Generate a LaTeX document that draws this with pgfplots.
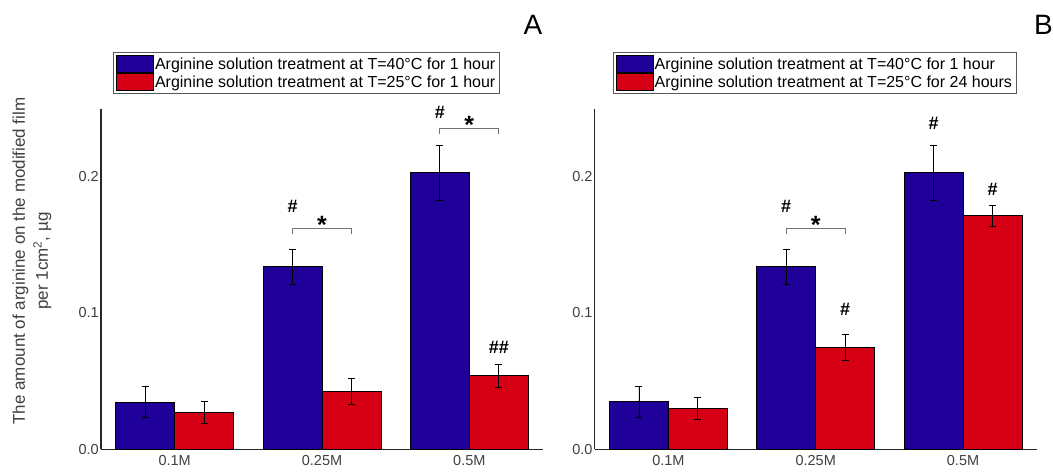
\documentclass[border=0pt]{standalone}
\usepackage{fontspec}
\setmainfont{Liberation Sans}
\usepackage{pgfplots}
\usepackage{pgfplotstable}
\pgfplotsset{compat=1.18}
\definecolor{cblue}{RGB}{31,0,153}
\definecolor{cred}{RGB}{214,0,20}
\definecolor{tgray}{RGB}{64,64,64}

\pgfplotstableread{
x y e
0 0.0346 0.0113
1 0.1339 0.0128
2 0.2026 0.0203
}\Ablue
\pgfplotstableread{
x y e
0 0.0270 0.0078
1 0.0424 0.0095
2 0.0539 0.0084
}\Ared
\pgfplotstableread{
x y e
0 0.0349 0.0113
1 0.1339 0.0128
2 0.2026 0.0203
}\Bblue
\pgfplotstableread{
x y e
0 0.0302 0.0080
1 0.0746 0.0095
2 0.1710 0.0079
}\Bred

\pgfplotsset{
 panel/.style={
  scale only axis, width=442pt, height=340pt,
  xmin=-0.5, xmax=2.5, ymin=0, ymax=0.249,
  axis lines=left, axis line style={-, line width=1.4pt, black!85},
  major tick length=0pt,
  xtick={0,1,2}, xticklabels={0.1M,0.25M,0.5M},
  ytick={0,0.1,0.2}, yticklabels={0.0,0.1,0.2},
  tick label style={font=\fontsize{14.5}{14.5}\selectfont, text=tgray},
  x tick label style={yshift=-3pt},
  y tick label style={inner sep=1pt, xshift=-1pt},
  ybar, bar width=0.4,
  clip=false,
  legend cell align=left,
  legend image code/.code={\draw[##1, draw=black, line width=0.6pt] (0pt,-8.5pt) rectangle (37pt,8.5pt);},
  legend style={at={(0,1)}, anchor=north west, yshift=57pt, draw=black!65, line width=0.8pt,
    font=\fontsize{16}{18}\selectfont, row sep=0.5pt, inner sep=2.5pt, nodes={inner sep=1.5pt}},
 },
 errs/.style={error bars/.cd, y dir=both, y explicit,
   error bar style={line width=0.8pt, black},
   error mark options={rotate=90, line width=0.8pt, black, mark size=3.5pt}},
 bl/.style={fill=cblue, draw=black, line width=0.6pt, bar shift=-0.2, errs},
 rd/.style={fill=cred, draw=black, line width=0.6pt, bar shift=0.2, errs},
}
\tikzset{
 hash/.style={font=\bfseries\fontsize{18}{18}\selectfont},
 ast/.style={font=\bfseries\fontsize{25}{25}\selectfont, yshift=-5pt},
 brk/.style={black!55, line width=0.9pt},
}

\begin{document}
\begin{tikzpicture}[x=1pt,y=1pt]
\useasboundingbox (0,0) rectangle (1053,473);

\node[rotate=90, align=center, font=\fontsize{17}{23}\selectfont, text=tgray] at (32,212)
 {The amount of arginine on the modified film\\per 1cm\textsuperscript{2}, µg};
\node[font=\fontsize{28}{28}\selectfont] at (533,448) {A};
\node[font=\fontsize{28}{28}\selectfont] at (1043.5,448) {B};

\begin{axis}[panel, at={(101pt,23.7pt)}, anchor=south west, legend style={xshift=12pt}]
\addplot[bl] table[x=x, y=y, y error=e] {\Ablue};
\addlegendentry{Arginine solution treatment at T=40°C for 1 hour}
\addplot[rd] table[x=x, y=y, y error=e] {\Ared};
\addlegendentry{Arginine solution treatment at T=25°C for 1 hour}
\node[hash] at (axis cs:0.8,0.178) {\#};
\draw[brk] (axis cs:0.8,0.158) |- (axis cs:1.2,0.1614) -- (axis cs:1.2,0.158);
\node[ast] at (axis cs:1.0,0.168) {*};
\node[hash] at (axis cs:1.8,0.2468) {\#};
\draw[brk] (axis cs:1.8,0.2309) |- (axis cs:2.2,0.2353) -- (axis cs:2.2,0.2309);
\node[ast] at (axis cs:2.0,0.241) {*};
\node[hash] at (axis cs:2.2,0.0748) {\#\#};
\end{axis}

\begin{axis}[panel, at={(594.7pt,23.7pt)}, anchor=south west, legend style={xshift=18pt}]
\addplot[bl] table[x=x, y=y, y error=e] {\Bblue};
\addlegendentry{Arginine solution treatment at T=40°C for 1 hour}
\addplot[rd] table[x=x, y=y, y error=e] {\Bred};
\addlegendentry{Arginine solution treatment at T=25°C for 24 hours}
\node[hash] at (axis cs:0.8,0.178) {\#};
\draw[brk] (axis cs:0.8,0.158) |- (axis cs:1.2,0.1614) -- (axis cs:1.2,0.158);
\node[ast] at (axis cs:1.0,0.168) {*};
\node[hash] at (axis cs:1.2,0.1024) {\#};
\node[hash] at (axis cs:1.8,0.2387) {\#};
\node[hash] at (axis cs:2.2,0.1907) {\#};
\end{axis}
\end{tikzpicture}
\end{document}
